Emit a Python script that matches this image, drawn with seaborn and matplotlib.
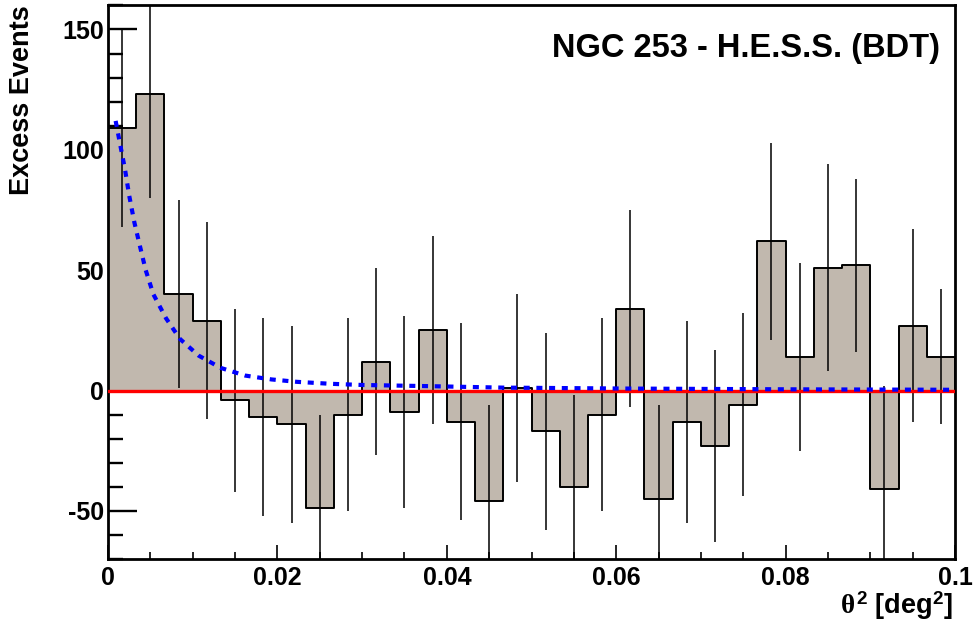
import numpy as np
import pandas as pd
import matplotlib
matplotlib.use('Agg')
import matplotlib.pyplot as plt
from matplotlib.ticker import MultipleLocator
import seaborn as sns

sns.set_theme(style='white', rc={'axes.unicode_minus': False})
plt.rcParams['font.family'] = ['Liberation Sans', 'DejaVu Sans']
plt.rcParams['font.weight'] = 'bold'
plt.rcParams['mathtext.fontset'] = 'custom'
plt.rcParams['mathtext.rm'] = 'Liberation Sans:bold'
plt.rcParams['mathtext.it'] = 'Liberation Serif'
for key in ['text.color', 'axes.labelcolor', 'xtick.color', 'ytick.color']:
    plt.rcParams[key] = 'black'

# excess counts per theta^2 bin (30 bins, 0 - 0.1 deg^2)
excess = [109, 123, 40, 29, -4, -11, -14, -49, -10, 12,
          -9, 25, -13, -46, 1, -17, -40, -10, 34, -45,
          -13, -23, -6, 62, 14, 51, 52, -41, 27, 14]
excess_err = [41, 43, 39, 41, 38, 41, 41, 39, 40, 39,
              40, 39, 41, 40, 39, 41, 38, 40, 41, 39,
              42, 40, 38, 41, 39, 43, 36, 43, 40, 28]

# fitted PSF curve
fit_theta2 = [0.0009, 0.0015, 0.0020, 0.0025, 0.0031, 0.0037, 0.00445, 0.00535,
              0.00685, 0.0085, 0.0107, 0.0133, 0.0162, 0.0193, 0.0223, 0.0262,
              0.030, 0.038, 0.0466, 0.0616, 0.080, 0.100]
fit_excess = [112, 101, 92, 81, 70, 61, 50, 40,
              30, 21.4, 14.5, 9.4, 6.2, 4.6, 3.6, 2.8,
              2.3, 1.8, 1.2, 0.8, 0.5, 0.3]

n_bins = len(excess)
edges = np.linspace(0, 0.1, n_bins + 1)
centers = (edges[:-1] + edges[1:]) / 2
df = pd.DataFrame({'theta2': centers, 'excess': excess, 'err': excess_err})
fit = pd.DataFrame({'theta2': fit_theta2, 'excess': fit_excess})

fig = plt.figure(figsize=(9.74, 6.32), dpi=100)
ax = fig.add_axes([0.1109, 0.1155, 0.8696, 0.876])

sns.histplot(data=df, x='theta2', weights='excess', bins=n_bins, binrange=(0, 0.1),
             element='step', fill=True, color='#c1b8ae', alpha=1,
             edgecolor='black', linewidth=1.4, ax=ax)
ax.errorbar(df['theta2'], df['excess'], yerr=df['err'], fmt='none',
            ecolor='black', elinewidth=1.1, capsize=0, zorder=3)
ax.axhline(0, color='red', lw=2.4, zorder=4)
sns.lineplot(data=fit, x='theta2', y='excess', color='blue', lw=3, ax=ax, zorder=5)
ax.lines[-1].set_dashes((1.45, 1.6))

ax.set_xlim(0, 0.1)
ax.set_ylim(-70, 160)
ax.xaxis.set_major_locator(MultipleLocator(0.02))
ax.xaxis.set_minor_locator(MultipleLocator(0.005))
ax.yaxis.set_major_locator(MultipleLocator(50))
ax.yaxis.set_minor_locator(MultipleLocator(10))
ax.set_xticks([0, 0.02, 0.04, 0.06, 0.08, 0.1])
ax.set_xticklabels(['0', '0.02', '0.04', '0.06', '0.08', '0.1'])

ax.tick_params(axis='y', which='major', direction='in', length=21, width=1.7,
               labelsize=18, pad=3, left=True)
ax.tick_params(axis='y', which='minor', direction='in', length=11, width=1.7, left=True)
ax.tick_params(axis='x', which='major', direction='in', length=10, width=1.2,
               labelsize=18, pad=5, bottom=True)
ax.tick_params(axis='x', which='minor', direction='in', length=5, width=1.2, bottom=True)
for lab in ax.get_xticklabels() + ax.get_yticklabels():
    lab.set_fontweight('bold')

for side in ['left', 'bottom', 'top', 'right']:
    ax.spines[side].set_color('black')
    ax.spines[side].set_linewidth(2)

ax.set_ylabel('Excess Events', fontsize=19.5, fontweight='bold', loc='top')
ax.yaxis.set_label_coords(-0.086, 1.0)
ax.set_xlabel(r'$\theta^{2}$ [deg$^{2}$]', fontsize=19.5, fontweight='bold', loc='right')
ax.xaxis.set_label_coords(0.998, -0.055)

ax.text(0.982, 0.907, 'NGC 253 - H.E.S.S. (BDT)', transform=ax.transAxes,
        ha='right', va='baseline', fontsize=23.5, fontweight='bold')

fig.savefig('out.png', dpi=100)
